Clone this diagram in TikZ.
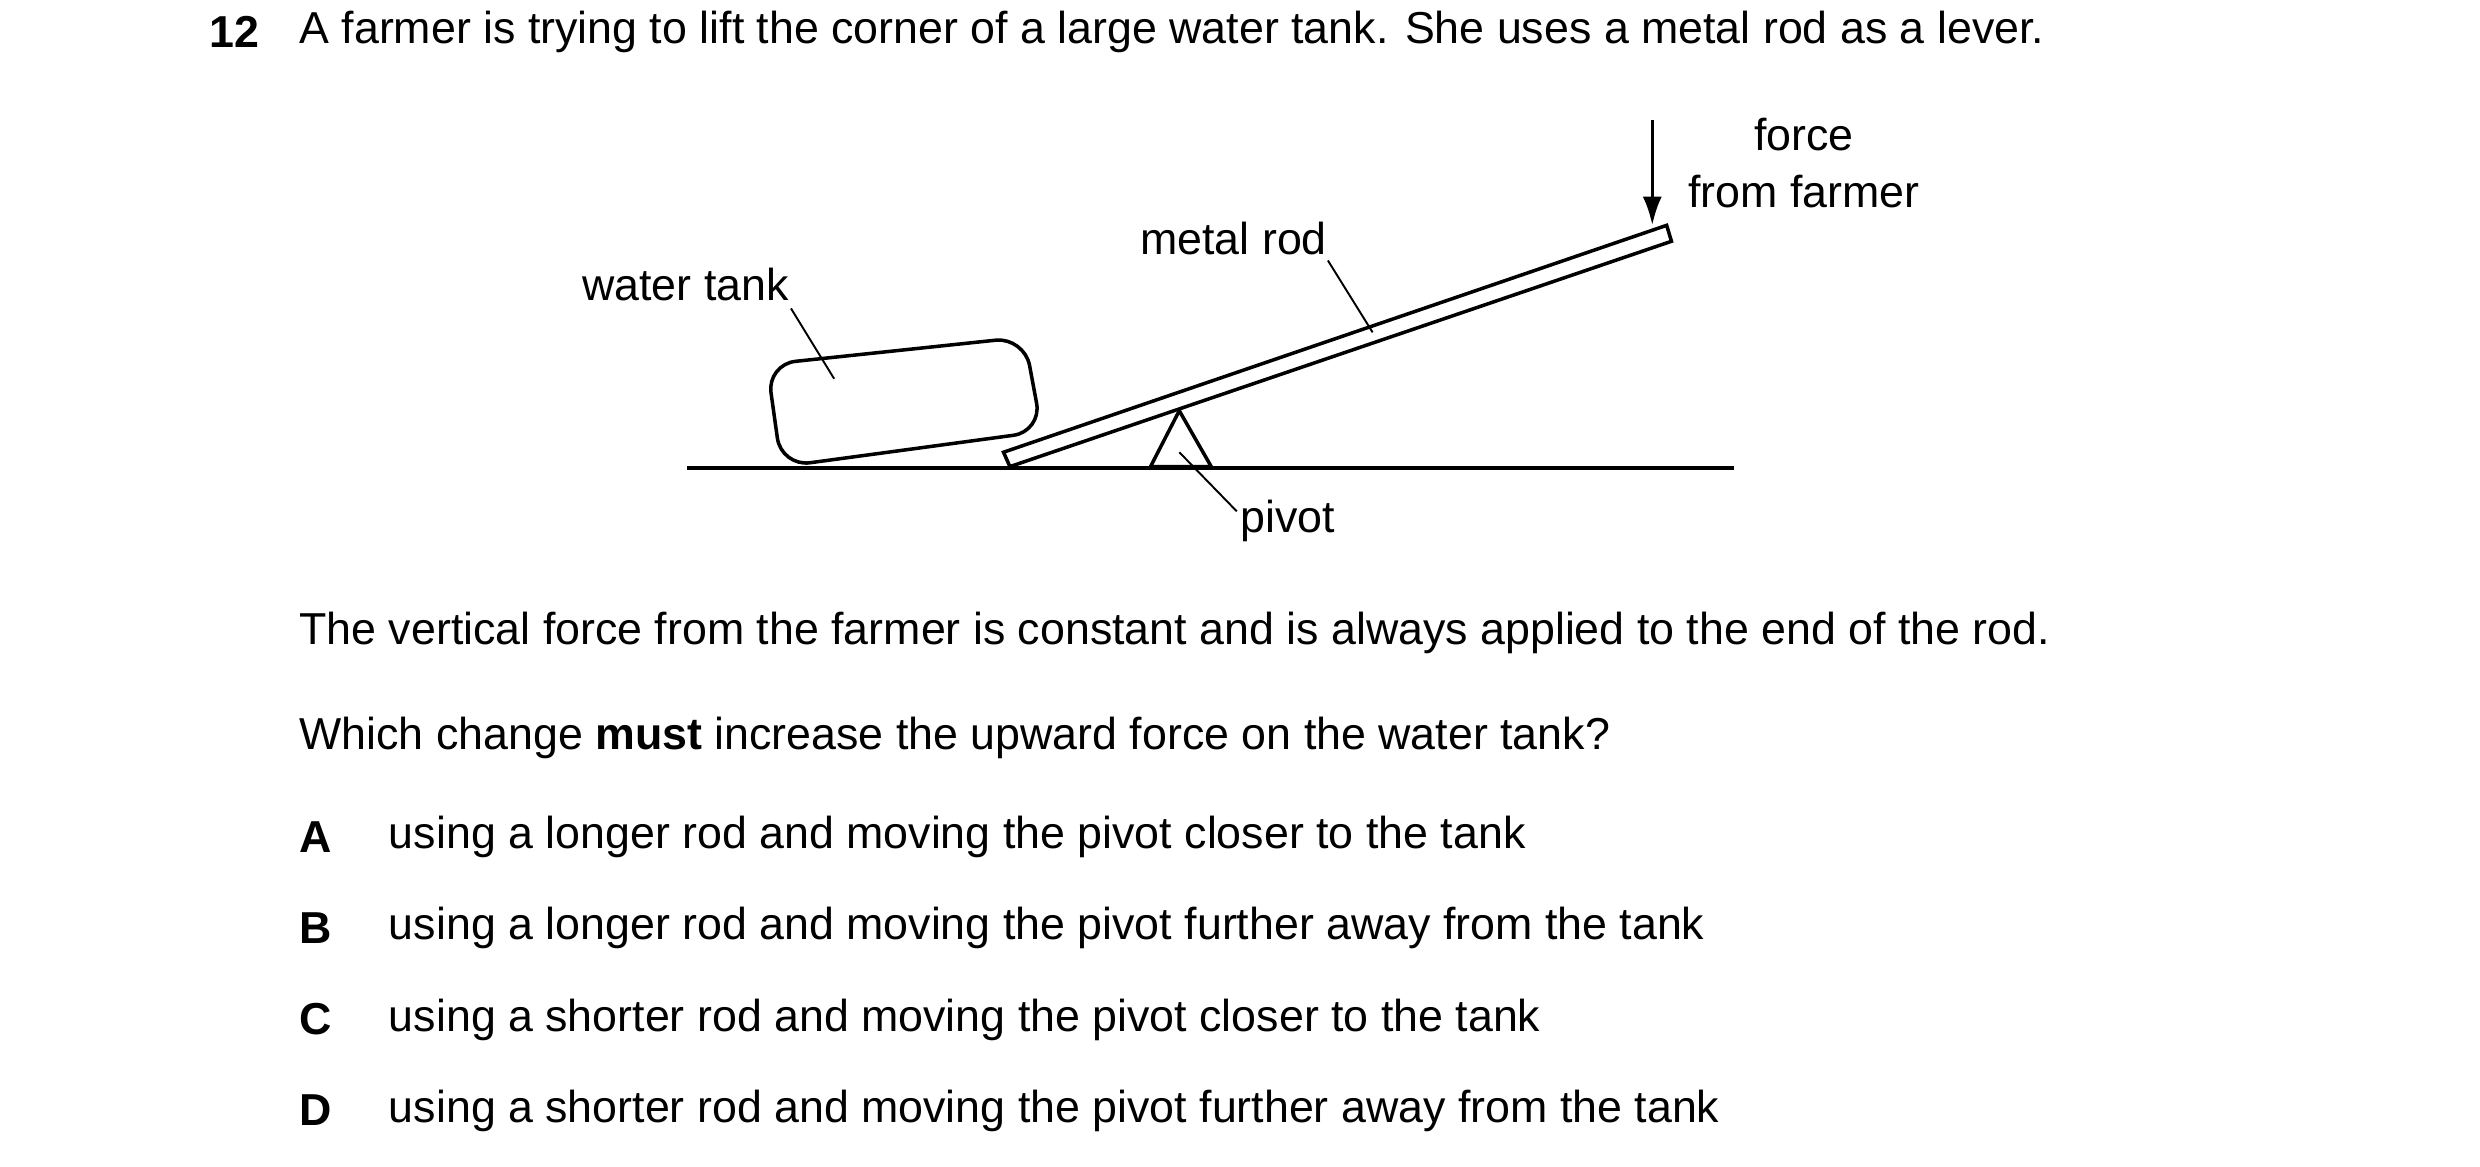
\documentclass[tikz,border=0pt]{standalone}
\usepackage{fontspec}
\setmainfont{Liberation Sans}
\usetikzlibrary{arrows.meta}
\begin{document}
\begin{tikzpicture}[x=0.5pt,y=-0.5pt,
  txt/.style={font=\fontsize{14}{16}\selectfont,inner sep=0pt},
  lbl/.style={font=\fontsize{14}{16}\selectfont,inner sep=0pt,align=center},
  ln/.style={line width=1.1pt},
  lead/.style={line width=0.6pt}]
\useasboundingbox (0,0) rectangle (1552,730);
\node[txt,anchor=west,font=\bfseries\fontsize{14}{16}\selectfont] (n) at (131,20) {12};
\node[txt,anchor=west] (q) at (187,20) {A farmer is trying to lift the corner of a large water tank. She uses a metal rod as a lever.};
% ground
\coordinate (g1) at (430,293); \coordinate (g2) at (1085,293);
\draw[ln] (g1) -- (g2);
% tank
\draw[ln,rounded corners=9pt] (480,228) -- (641,211) -- (652,270) -- (489,292) -- cycle;
% rod
\draw[ln,fill=white] (628,283) -- (1043,141) -- (1046,151) -- (632,292) -- cycle;
% pivot
\draw[ln,fill=white] (720,292) -- (738,257) -- (758,292) -- cycle;
% force arrow
\coordinate (fa) at (1034,75); \coordinate (fb) at (1034,141);
\draw[ln,-{Latex[length=9pt,width=6pt]}] (fa) -- (fb);
\node[lbl] (force) at (1129,102) {force\\[2pt]from farmer};
\node[txt] (mr) at (772,149) {metal rod};
\draw[lead] (831,163) -- (859,208);
\node[txt] (wt) at (429,178) {water tank};
\draw[lead] (495,193) -- (522,237);
\node[txt] (pv) at (806,326) {pivot};
\draw[lead] (774,320) -- (738,283);
\node[txt,anchor=west] (s1) at (187,396) {The vertical force from the farmer is constant and is always applied to the end of the rod.};
\node[txt,anchor=west] (s2) at (187,462) {Which change \textbf{must} increase the upward force on the water tank?};
\foreach \L/\y/\t in {A/524/using a longer rod and moving the pivot closer to the tank,
 B/581/using a longer rod and moving the pivot further away from the tank,
 C/638/using a shorter rod and moving the pivot closer to the tank,
 D/695/using a shorter rod and moving the pivot further away from the tank}{
  \node[txt,anchor=west,font=\bfseries\fontsize{14}{16}\selectfont] (l\L) at (187,\y) {\L};
  \node[txt,anchor=west] (t\L) at (243,\y) {\t};
}
\end{tikzpicture}
\end{document}
